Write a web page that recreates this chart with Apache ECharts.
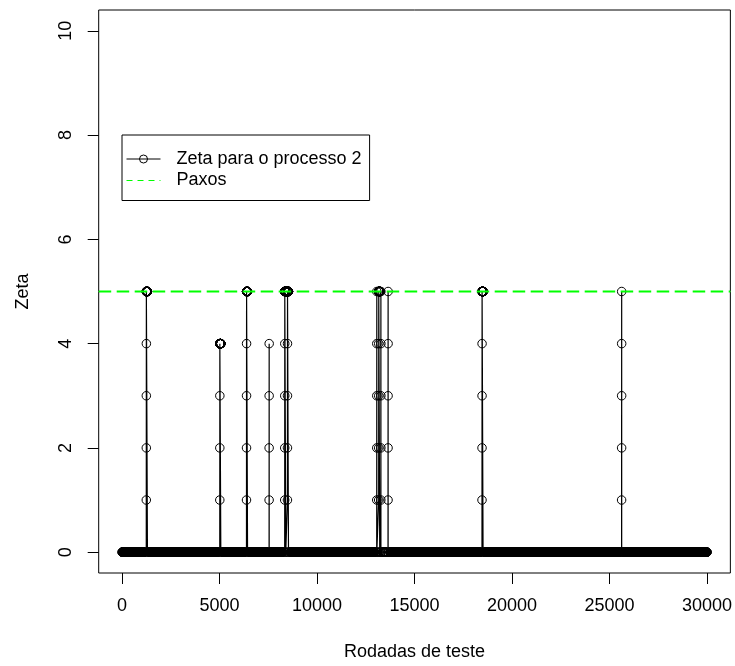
<!DOCTYPE html>
<html><head><meta charset="utf-8">
<script src="https://cdn.jsdelivr.net/npm/echarts@6/dist/echarts.min.js"></script>
<style>html,body{margin:0;padding:0;background:#fff}#c{width:735px;height:666px}</style>
</head><body><div id="c"></div>
<script>
// ---- data ----
const totalRounds = 30000;
const xTicks = [0, 5000, 10000, 15000, 20000, 25000, 30000];
const yTicks = [0, 2, 4, 6, 8, 10];
// zeta is 0 in every round except for these bursts (round where it starts, peak value, rounds held at peak)
const spikeStart = [1240, 5010, 6380, 7540, 8340, 8480, 13060, 13160, 13270, 13640, 18460, 25620];
const spikePeak  = [5,    4,    5,    4,    5,    5,    5,     5,     5,     5,     5,     5];
const spikeHold  = [55,   50,   50,   1,    50,   50,   1,     50,    1,     1,     50,    1];
const baselineStep = 8;    // the zero rounds are drawn every 8 rounds
const spikeGap = 100;      // zero rounds kept clear around a burst
const paxosLevel = 5;
const seriesNames = ['Zeta para o processo 2', 'Paxos'];
const xRange = [-1200, 31200];
const yRange = [-0.4, 10.4];

// ---- build series ----
const zeta = [];
let r = 0;
for (let i = 0; i < spikeStart.length; i++) {
  const s = spikeStart[i], p = spikePeak[i], h = spikeHold[i];
  for (; r < s - spikeGap; r += baselineStep) zeta.push([r, 0]);
  zeta.push([s, 0]);
  for (let k = 1; k <= p; k++) zeta.push([s + k, k]);
  for (let j = 1; j < h; j++) zeta.push([s + p + j, p]);
  const end = s + p + h;
  zeta.push([end, 0]);
  r = end + spikeGap;
}
for (; r <= totalRounds; r += baselineStep) zeta.push([r, 0]);
if (zeta[zeta.length - 1][0] !== totalRounds) zeta.push([totalRounds, 0]);

const paxos = [[xRange[0], paxosLevel], [xRange[1], paxosLevel]];

const font = '"Liberation Sans", Arial, Helvetica, sans-serif';
const fs = 18;
const chart = echarts.init(document.getElementById('c'), null, {renderer: 'canvas'});
chart.setOption({
  animation: false,
  backgroundColor: '#fff',
  grid: {left: 98.7, right: 4.3, top: 10, bottom: 90, show: true, borderColor: '#000', borderWidth: 1, backgroundColor: 'transparent'},
  xAxis: {
    type: 'value', min: xRange[0], max: xRange[1],
    name: 'Rodadas de teste', nameLocation: 'middle', nameGap: 70,
    nameTextStyle: {fontFamily: font, fontSize: fs, color: '#000'},
    axisLine: {show: false, onZero: false}, splitLine: {show: false},
    axisTick: {show: true, customValues: xTicks, length: 11, lineStyle: {color: '#000', width: 1}},
    axisLabel: {customValues: xTicks, margin: 24, fontFamily: font, fontSize: fs, color: '#000',
      formatter: v => String(v)}
  },
  yAxis: {
    type: 'value', min: yRange[0], max: yRange[1],
    name: 'Zeta', nameLocation: 'middle', nameGap: 67,
    nameTextStyle: {fontFamily: font, fontSize: fs, color: '#000'},
    axisLine: {show: false, onZero: false}, splitLine: {show: false},
    axisTick: {show: true, customValues: yTicks, length: 11, lineStyle: {color: '#000', width: 1}},
    axisLabel: {customValues: yTicks, rotate: 90, margin: 24, fontFamily: font, fontSize: fs, color: '#000',
      formatter: v => String(v)}
  },
  legend: {
    orient: 'vertical', left: 122, top: 135,
    padding: [15, 8, 11, 4], itemGap: 3.5, itemWidth: 34, itemHeight: 10,
    borderColor: '#000', borderWidth: 1, backgroundColor: '#fff',
    textStyle: {fontFamily: font, fontSize: fs, color: '#000', padding: [0, 0, 0, 11]},
    data: [
      {name: seriesNames[0], lineStyle: {width: 1, color: '#000'}, itemStyle: {color: 'rgba(0,0,0,0)', borderColor: '#000', borderWidth: 1}},
      {name: seriesNames[1], lineStyle: {width: 1, type: [6, 5], color: '#00ff00'}, itemStyle: {color: 'rgba(0,0,0,0)', borderColor: 'rgba(0,0,0,0)', borderWidth: 0}}
    ]
  },
  series: [
    {
      name: seriesNames[0], type: 'line', data: zeta,
      symbol: 'circle', symbolSize: 8.5, showAllSymbol: true,
      itemStyle: {color: 'rgba(0,0,0,0)', borderColor: '#000', borderWidth: 1},
      lineStyle: {color: '#000', width: 1.2},
      emphasis: {disabled: true}, z: 2
    },
    {
      name: seriesNames[1], type: 'line', data: paxos, symbol: 'none',
      itemStyle: {color: '#00ff00'},
      lineStyle: {color: '#00ff00', width: 2, type: [12.5, 5.5]},
      emphasis: {disabled: true}, z: 3
    }
  ]
});
</script></body></html>
